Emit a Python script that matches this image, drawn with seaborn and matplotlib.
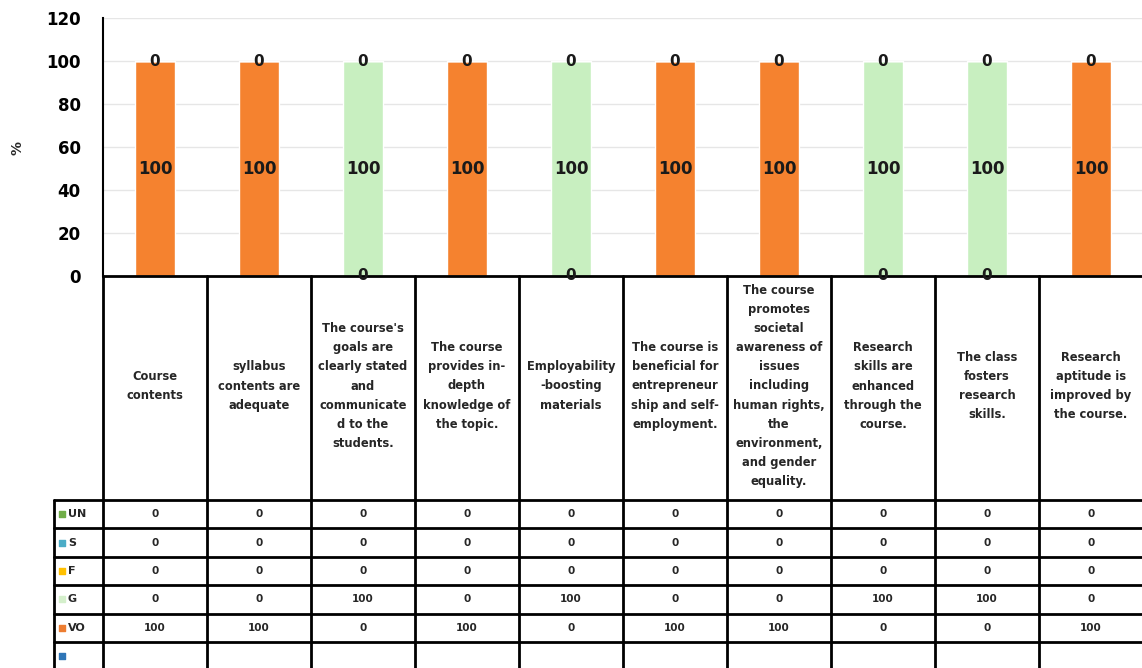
import numpy as np
import pandas as pd
import matplotlib
matplotlib.use("Agg")
import matplotlib.pyplot as plt
import seaborn as sns

# Data (percent of responses)
statements = [
    "Course\ncontents",
    "syllabus\ncontents are\nadequate",
    "The course's\ngoals are\nclearly stated\nand\ncommunicate\nd to the\nstudents.",
    "The course\nprovides in-\ndepth\nknowledge of\nthe topic.",
    "Employability\n-boosting\nmaterials",
    "The course is\nbeneficial for\nentrepreneur\nship and self-\nemployment.",
    "The course\npromotes\nsocietal\nawareness of\nissues\nincluding\nhuman rights,\nthe\nenvironment,\nand gender\nequality.",
    "Research\nskills are\nenhanced\nthrough the\ncourse.",
    "The class\nfosters\nresearch\nskills.",
    "Research\naptitude is\nimproved by\nthe course.",
]
UN = [0, 0, 0, 0, 0, 0, 0, 0, 0, 0]
S = [0, 0, 0, 0, 0, 0, 0, 0, 0, 0]
F = [0, 0, 0, 0, 0, 0, 0, 0, 0, 0]
G = [0, 0, 100, 0, 100, 0, 0, 100, 100, 0]
VO = [100, 100, 0, 100, 0, 100, 100, 0, 0, 100]

row_names = ["UN", "S", "F", "G", "VO", ""]
row_colors = ["#70AD47", "#4BACC6", "#FFC000", "#D4EFCB", "#ED7D31", "#2E75B6"]
bar_colors = {"VO": "#F5822F", "G": "#C8EFC0", "F": "#FFC000", "S": "#4BACC6", "UN": "#70AD47"}

series = {"UN": UN, "S": S, "F": F, "G": G, "VO": VO}
cat_ids = [f"c{i}" for i in range(len(statements))]

W, H = 1142, 668
fig = plt.figure(figsize=(W / 100, H / 100), dpi=100)
sns.set_style("white")
plt.rcParams["font.family"] = ["DejaVu Sans"]

# chart area in pixel coords
x0, x1 = 103, 1143
y_top, y_zero = 18, 276
ax = fig.add_axes([x0 / W, 1 - y_zero / H, (x1 - x0) / W, (y_zero - y_top) / H])

# stacked bars, VO at the bottom like the original workbook
bottom = np.zeros(len(statements))
seen = set()
for name in ["VO", "G", "F", "S", "UN"]:
    vals = np.array(series[name], dtype=float)
    sns.barplot(x=cat_ids, y=vals, bottom=bottom, color=bar_colors[name],
                saturation=1, width=0.385, ax=ax, order=cat_ids)
    for i, v in enumerate(vals):
        ypos = bottom[i] + v / 2
        if (i, ypos) in seen:
            continue
        seen.add((i, ypos))
        ax.text(i, ypos, f"{int(v)}", ha="center", va="center",
                fontsize=12 if v > 0 else 11, fontweight="bold", color="#1a1a1a", zorder=5)
    bottom = bottom + vals

ax.set_ylim(0, 120)
ax.set_xlim(-0.5, len(statements) - 0.5)
ax.set_yticks(range(0, 121, 20))
ax.set_yticklabels([str(t) for t in range(0, 121, 20)], fontsize=12,
                   fontweight="bold", color="black")
ax.yaxis.grid(True, color="#e6e6e6", linewidth=1)
ax.set_axisbelow(True)
ax.set_xticks([])
ax.set_xlabel("")
ax.set_ylabel("")
for s in ["top", "right"]:
    ax.spines[s].set_visible(False)
ax.spines["left"].set_color("black")
ax.spines["left"].set_linewidth(1.5)
ax.spines["bottom"].set_color("black")
ax.spines["bottom"].set_linewidth(2)
ax.tick_params(axis="y", direction="out", length=6, width=1.5, color="black", pad=10)
fig.text(18 / W, 1 - 148 / H, "%", rotation=90, ha="center", va="center",
         fontsize=10, fontweight="bold")

# data table under the chart
tab = fig.add_axes([0, 0, 1, 1])
tab.set_xlim(0, W)
tab.set_ylim(H, 0)
tab.axis("off")
tab.patch.set_alpha(0)

col_w = (x1 - x0) / len(statements)
head_bot = 500
row_h = 28.4
lw = 2
for k in range(len(statements) + 1):
    xx = x0 + k * col_w
    tab.plot([xx, xx], [y_zero, H + 5], color="black", lw=lw)
tab.plot([54, 54], [head_bot, H + 5], color="black", lw=lw)
for r in range(len(row_names) + 1):
    yy = head_bot + r * row_h
    tab.plot([54, x1], [yy, yy], color="black", lw=lw)

for k, txt in enumerate(statements):
    tab.text(x0 + (k + 0.5) * col_w, (y_zero + head_bot) / 2 - 2, txt, ha="center",
             va="center", fontsize=8.3, fontweight="bold", linespacing=1.62)

table_vals = [UN, S, F, G, VO]
for r, name in enumerate(row_names):
    yc = head_bot + (r + 0.5) * row_h
    tab.scatter([62], [yc], marker="s", s=16, color=row_colors[r], zorder=3)
    tab.text(68, yc, name, ha="left", va="center", fontsize=8, fontweight="bold")
    if r < len(table_vals):
        for k, v in enumerate(table_vals[r]):
            tab.text(x0 + (k + 0.5) * col_w, yc, str(v), ha="center", va="center",
                     fontsize=7.5, fontweight="bold")

fig.savefig("out.png", dpi=100, facecolor="white")
